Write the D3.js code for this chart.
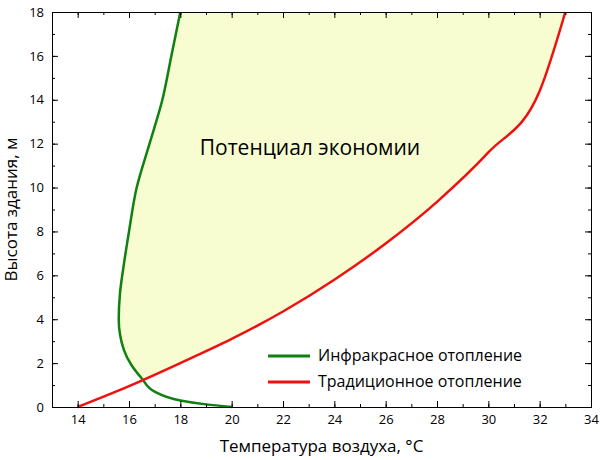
<!DOCTYPE html>
<html><head><meta charset="utf-8">
<script src="https://cdn.jsdelivr.net/npm/d3@7"></script>
<style>body{margin:0;background:#fff}text{font-family:"Open Sans",sans-serif}</style>
</head><body><svg width="600" height="460"></svg>
<script>
const xTicks=[14,16,18,20,22,24,26,28,30,32,34];
const yTicks=[0,2,4,6,8,10,12,14,16,18];
const redX=[14,16,18,20,22,24,26,28,30,32,33];
const redY=[0,0.95,2.0,3.1,4.35,5.8,7.45,9.35,11.6,14.4,18];
const greenX=[20,19,18,17,16.5,16.1,15.8,15.6,15.65,15.8,16.0,16.3,16.8,17.3,17.65,18];
const greenY=[0,0.12,0.3,0.7,1.3,1.9,2.6,4,5.2,6.5,8,10,12,14,16,18];
const labels={x:"Температура воздуха, °C",y:"Высота здания, м",area:"Потенциал экономии",g:"Инфракрасное отопление",r:"Традиционное отопление"};
const svg=d3.select("svg");
const L=52,R=591,T=12,B=407;
const x=d3.scaleLinear().domain([13,34]).range([L,R]);
const y=d3.scaleLinear().domain([0,18]).range([B,T]);
const red=redX.map((v,i)=>[v,redY[i]]), green=greenX.map((v,i)=>[v,greenY[i]]);
const lineR=d3.line().x(d=>x(d[0])).y(d=>y(d[1])).curve(d3.curveMonotoneX);
const lineG=d3.line().x(d=>x(d[0])).y(d=>y(d[1])).curve(d3.curveMonotoneY);
svg.append("clipPath").attr("id","c").append("path").attr("d",lineR(red)+`L${x(13)},${y(18)}L${x(13)},${y(0)}Z`);
svg.append("path").attr("clip-path","url(#c)").attr("d",lineG(green)+`L${x(34)},${y(18)}L${x(34)},${y(0)}Z`).attr("fill","#f7fdd0");
svg.append("path").attr("d",lineG(green)).attr("fill","none").attr("stroke","#108010").attr("stroke-width",2.5);
svg.append("path").attr("d",lineR(red)).attr("fill","none").attr("stroke","#f01010").attr("stroke-width",2.5);
const minorX=d3.range(13,34.01,1), minorY=d3.range(0,18.01,1);
svg.append("g").attr("transform",`translate(0,${B})`).call(d3.axisBottom(x).tickValues(xTicks).tickSize(-6).tickPadding(8).tickFormat(d3.format("d")));
svg.append("g").attr("transform",`translate(0,${B})`).call(d3.axisBottom(x).tickValues(minorX).tickSize(-3).tickFormat(""));
svg.append("g").attr("transform",`translate(0,${T})`).call(d3.axisTop(x).tickValues(xTicks).tickSize(-6).tickFormat(""));
svg.append("g").attr("transform",`translate(0,${T})`).call(d3.axisTop(x).tickValues(minorX).tickSize(-3).tickFormat(""));
svg.append("g").attr("transform",`translate(${L},0)`).call(d3.axisLeft(y).tickValues(yTicks).tickSize(-6).tickPadding(8).tickFormat(d3.format("d")));
svg.append("g").attr("transform",`translate(${L},0)`).call(d3.axisLeft(y).tickValues(minorY).tickSize(-3).tickFormat(""));
svg.append("g").attr("transform",`translate(${R},0)`).call(d3.axisRight(y).tickValues(yTicks).tickSize(-6).tickFormat(""));
svg.append("g").attr("transform",`translate(${R},0)`).call(d3.axisRight(y).tickValues(minorY).tickSize(-3).tickFormat(""));
svg.selectAll(".tick text").attr("font-size",13).attr("font-family","Open Sans").attr("fill","#000");
svg.selectAll(".domain").attr("stroke","#000");
svg.append("text").attr("x",(L+R)/2).attr("y",452).attr("text-anchor","middle").attr("font-size",17).text(labels.x);
svg.append("text").attr("transform",`translate(17,${(T+B)/2}) rotate(-90)`).attr("text-anchor","middle").attr("font-size",17).text(labels.y);
svg.append("text").attr("x",310).attr("y",155).attr("text-anchor","middle").attr("font-size",21).text(labels.area);
[[labels.g,"#108010",356],[labels.r,"#f01010",382]].forEach(([t,c,yy])=>{
 svg.append("line").attr("x1",268).attr("x2",310).attr("y1",yy).attr("y2",yy).attr("stroke",c).attr("stroke-width",3);
 svg.append("text").attr("x",318).attr("y",yy+5).attr("font-size",16).text(t);
});
</script></body></html>
